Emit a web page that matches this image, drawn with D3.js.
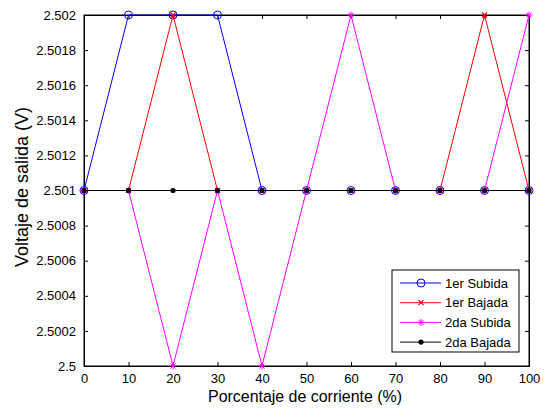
<!DOCTYPE html>
<html><head><meta charset="utf-8">
<script src="https://cdn.jsdelivr.net/npm/d3@7"></script>
<style>body{margin:0;background:#fff}svg{display:block}text{font-family:"Liberation Sans",Arial,sans-serif;fill:#000}</style>
</head><body>
<svg id="c" width="547" height="411"></svg>
<script>
const xs = [0,10,20,30,40,50,60,70,80,90,100];
const subida1 = [2.501,2.502,2.502,2.502,2.501,2.501,2.501,2.501,2.501,2.501,2.501];
const bajada1 = [2.501,2.501,2.502,2.501,2.501,2.501,2.501,2.501,2.501,2.502,2.501];
const subida2 = [2.501,2.501,2.5,2.501,2.5,2.501,2.502,2.501,2.501,2.501,2.502];
const bajada2 = [2.501,2.501,2.501,2.501,2.501,2.501,2.501,2.501,2.501,2.501,2.501];
const xTicks = [0,10,20,30,40,50,60,70,80,90,100];
const yTicks = [2.5,2.5002,2.5004,2.5006,2.5008,2.501,2.5012,2.5014,2.5016,2.5018,2.502];
const seriesNames = ["1er Subida","1er Bajada","2da Subida","2da Bajada"];

const series = [
  {name:seriesNames[0], vals:subida1, color:"#0000ff", marker:"circle"},
  {name:seriesNames[1], vals:bajada1, color:"#ff0000", marker:"x"},
  {name:seriesNames[2], vals:subida2, color:"#ff00ff", marker:"star"},
  {name:seriesNames[3], vals:bajada2, color:"#000000", marker:"dot"}
];

const L=84, R=529, T=15, B=366;
const svg = d3.select("#c");
const x = d3.scaleLinear().domain([0,100]).range([L,R]);
const y = d3.scaleLinear().domain([2.5,2.502]).range([B,T]);

const fmtY = d => String(+d.toFixed(4));
const gx = svg.append("g").attr("transform",`translate(0,${B})`)
  .call(d3.axisBottom(x).tickValues(xTicks).tickSize(-4).tickPadding(8).tickFormat(d=>d));
const gxt = svg.append("g").attr("transform",`translate(0,${T})`)
  .call(d3.axisTop(x).tickValues(xTicks).tickSize(-4).tickFormat(""));
const gy = svg.append("g").attr("transform",`translate(${L},0)`)
  .call(d3.axisLeft(y).tickValues(yTicks).tickSize(-4).tickPadding(8).tickFormat(fmtY));
const gyr = svg.append("g").attr("transform",`translate(${R},0)`)
  .call(d3.axisRight(y).tickValues(yTicks).tickSize(-4).tickFormat(""));
[gx,gxt,gy,gyr].forEach(g=>{
  g.selectAll("path.domain").attr("stroke","#000").attr("stroke-width",1);
  g.selectAll(".tick line").attr("stroke","#000");
  g.selectAll(".tick text").attr("font-size","13px").attr("font-family","Liberation Sans, Arial, sans-serif").attr("fill","#000");
});
svg.append("rect").attr("x",L).attr("y",T).attr("width",R-L).attr("height",B-T)
  .attr("fill","none").attr("stroke","#000");

function drawMarker(g, m, cx, cy, color){
  if(m==="circle"){
    g.append("circle").attr("cx",cx).attr("cy",cy).attr("r",4).attr("fill","none").attr("stroke",color).attr("stroke-width",1);
  } else if(m==="x"){
    const s=2.5;
    g.append("path").attr("d",`M${cx-s},${cy-s}L${cx+s},${cy+s}M${cx-s},${cy+s}L${cx+s},${cy-s}`).attr("stroke",color).attr("stroke-width",1.2);
  } else if(m==="star"){
    const s=3.5, d=2.5;
    g.append("path").attr("d",`M${cx-s},${cy}L${cx+s},${cy}M${cx},${cy-s}L${cx},${cy+s}M${cx-d},${cy-d}L${cx+d},${cy+d}M${cx-d},${cy+d}L${cx+d},${cy-d}`).attr("stroke",color).attr("stroke-width",1);
  } else {
    g.append("circle").attr("cx",cx).attr("cy",cy).attr("r",2.6).attr("fill",color);
  }
}

const line = d3.line().x((d,i)=>x(xs[i])).y(d=>y(d));
const plot = svg.append("g");
series.forEach(s=>{
  const g = plot.append("g");
  g.append("path").attr("d",line(s.vals)).attr("fill","none").attr("stroke",s.color).attr("stroke-width",1);
  s.vals.forEach((v,i)=>drawMarker(g,s.marker,x(xs[i]),y(v),s.color));
});

function fitText(t, target, base){
  const len = t.node().getComputedTextLength();
  if(len>0) t.attr("font-size", (base*target/len).toFixed(2)+"px");
}
const xl = svg.append("text").attr("x",305).attr("y",402).attr("text-anchor","middle").attr("font-size","16px").text("Porcentaje de corriente (%)");
fitText(xl,194,16);
const yl = svg.append("text").attr("transform",`translate(28,187) rotate(-90)`).attr("text-anchor","middle").attr("font-size","16px").text("Voltaje de salida (V)");
fitText(yl,160,16);

const lg = svg.append("g");
lg.append("rect").attr("x",392).attr("y",270).attr("width",127).attr("height",82).attr("fill","#fff").attr("stroke","#000");
series.forEach((s,i)=>{
  const yy = 283 + i*19.7;
  lg.append("line").attr("x1",400).attr("x2",441).attr("y1",yy).attr("y2",yy).attr("stroke",s.color);
  drawMarker(lg,s.marker,421,yy,s.color);
  lg.append("text").attr("x",445).attr("y",yy+4.5).attr("font-size","13px").text(s.name);
});
</script>
</body></html>
